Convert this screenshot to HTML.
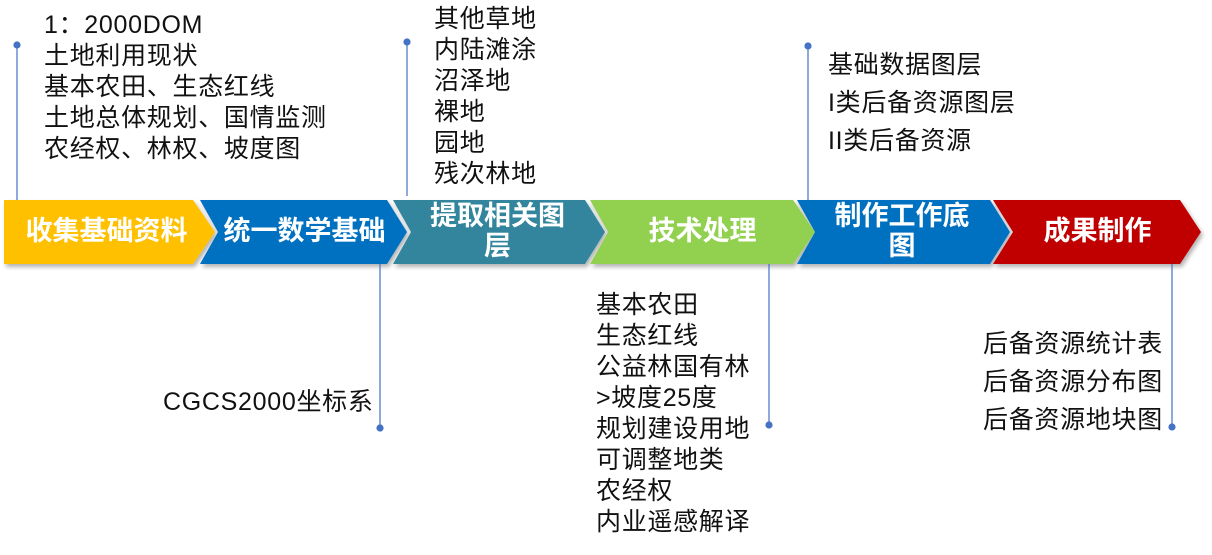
<!DOCTYPE html>
<html><head><meta charset="utf-8"><style>
body{margin:0;width:1212px;height:555px;background:#fff;position:relative;overflow:hidden;font-family:"Liberation Sans","Noto Sans CJK SC",sans-serif}
.t{position:absolute;font-size:25px;letter-spacing:0.7px;line-height:31px;color:#111;white-space:nowrap}
.c{position:absolute;color:#fff;font-weight:bold;font-size:27px;line-height:30px;text-align:center}
</style></head><body>
<svg width="1212" height="555" style="position:absolute;left:0;top:0">
<defs><filter id="s"><feDropShadow dx="2" dy="3" stdDeviation="2" flood-opacity="0.3"/></filter></defs>
<g filter="url(#s)">
<polygon points="4,200 193,200 215,232 193,264 4,264" fill="#FFC000"/>
<polygon points="200,200 387,200 407,232 387,264 200,264 218,232" fill="#0070C0"/>
<polygon points="393,200 585,200 605,232 585,264 393,264 411,232" fill="#31859C"/>
<polygon points="590,200 793,200 815,232 793,264 590,264 608,232" fill="#92D050"/>
<polygon points="797,200 990,200 1010,232 990,264 797,264 815,232" fill="#0070C0"/>
<polygon points="993,200 1180,200 1201,232 1180,264 993,264 1013,232" fill="#C00000"/>
</g>
<g stroke="#4472C4" stroke-width="1.2" fill="#4472C4">
<line x1="17" y1="45" x2="17" y2="200"/><circle cx="17" cy="45" r="3"/>
<line x1="380" y1="264" x2="380" y2="428"/><circle cx="380" cy="428" r="3"/>
<line x1="407" y1="42" x2="407" y2="196"/><circle cx="407" cy="42" r="3"/>
<line x1="769" y1="264" x2="769" y2="425"/><circle cx="769" cy="425" r="3"/>
<line x1="808" y1="46" x2="808" y2="200"/><circle cx="808" cy="46" r="3"/>
<line x1="1172" y1="264" x2="1172" y2="427"/><circle cx="1172" cy="427" r="3"/>
</g>
</svg>
<div class="c" style="left:4px;width:205px;top:216px">收集基础资料</div>
<div class="c" style="left:212px;width:185px;top:216px">统一数学基础</div>
<div class="c" style="left:405px;width:185px;top:201px">提取相关图<br>层</div>
<div class="c" style="left:605px;width:195px;top:216px">技术处理</div>
<div class="c" style="left:812px;width:180px;top:201px">制作工作底<br>图</div>
<div class="c" style="left:1005px;width:185px;top:216px">成果制作</div>
<div class="t" style="left:44px;top:10px">1：2000DOM<br>土地利用现状<br>基本农田、生态红线<br>土地总体规划、国情监测<br>农经权、林权、坡度图</div>
<div class="t" style="left:434px;top:4px">其他草地<br>内陆滩涂<br>沼泽地<br>裸地<br>园地<br>残次林地</div>
<div class="t" style="left:828px;top:46px;line-height:38px">基础数据图层<br>I类后备资源图层<br>II类后备资源</div>
<div class="t" style="left:163px;top:387px">CGCS2000坐标系</div>
<div class="t" style="left:596px;top:290px">基本农田<br>生态红线<br>公益林国有林<br>&gt;坡度25度<br>规划建设用地<br>可调整地类<br>农经权<br>内业遥感解译</div>
<div class="t" style="left:983px;top:325px;line-height:38px">后备资源统计表<br>后备资源分布图<br>后备资源地块图</div>
</body></html>
